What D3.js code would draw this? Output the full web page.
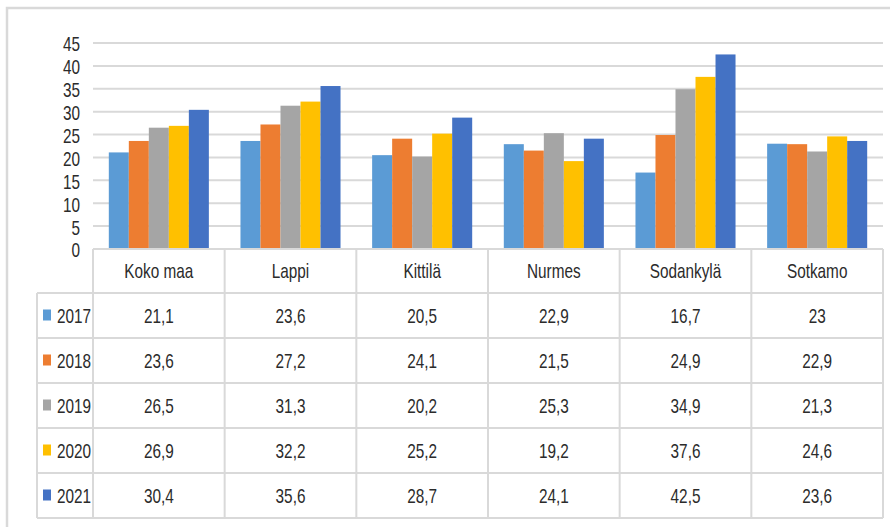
<!DOCTYPE html>
<html>
<head>
<meta charset="utf-8">
<script src="https://cdn.jsdelivr.net/npm/d3@7"></script>
<style>
  html, body { margin: 0; padding: 0; background: #fff; }
  svg { display: block; }
  text { font-family: "Liberation Sans", Arial, sans-serif; fill: #2b2b2b; }
</style>
</head>
<body>
<svg id="chart" width="890" height="527"></svg>
<script>
// Regions and years shown in the chart and its data table
const regions = ["Koko maa", "Lappi", "Kittilä", "Nurmes", "Sodankylä", "Sotkamo"];
const years = ["2017", "2018", "2019", "2020", "2021"];
const yearColors = ["#5B9BD5", "#ED7D31", "#A5A5A5", "#FFC000", "#4472C4"];

// Values per year, one entry per region (same order as regions)
const v2017 = [21.1, 23.6, 20.5, 22.9, 16.7, 23];
const v2018 = [23.6, 27.2, 24.1, 21.5, 24.9, 22.9];
const v2019 = [26.5, 31.3, 20.2, 25.3, 34.9, 21.3];
const v2020 = [26.9, 32.2, 25.2, 19.2, 37.6, 24.6];
const v2021 = [30.4, 35.6, 28.7, 24.1, 42.5, 23.6];
const series = [v2017, v2018, v2019, v2020, v2021];

const yTicks = [0, 5, 10, 15, 20, 25, 30, 35, 40, 45];

const svg = d3.select("#chart");
const gridColor = "#d9d9d9";
const fontSize = 21;
const squeeze = 0.73;   // condensed lettering

// Places a horizontally condensed label at (x, y)
function label(parent, x, y, txt, anchor) {
  parent.append("g")
    .attr("transform", `translate(${x},${y}) scale(${squeeze},1)`)
    .append("text")
    .attr("text-anchor", anchor)
    .attr("dominant-baseline", "central")
    .attr("font-size", fontSize)
    .text(txt);
}

// Outer chart frame
svg.append("rect")
  .attr("x", 7).attr("y", 8)
  .attr("width", 900).attr("height", 540)
  .attr("fill", "none")
  .attr("stroke", gridColor)
  .attr("stroke-width", 2.5);

const plotLeft = 93, plotRight = 883, plotTop = 43, plotBottom = 249;

const x0 = d3.scaleBand().domain(regions).range([plotLeft, plotRight]).paddingInner(0).paddingOuter(0);
const x1 = d3.scaleBand().domain(years).range([0, x0.bandwidth()]).paddingInner(0).paddingOuter(0.79);
const y = d3.scaleLinear().domain([0, 45]).range([plotBottom, plotTop]);
const color = d3.scaleOrdinal().domain(years).range(yearColors);

// Horizontal gridlines
svg.append("g")
  .selectAll("line")
  .data(yTicks.filter(t => t > 0))
  .join("line")
  .attr("x1", plotLeft).attr("x2", plotRight)
  .attr("y1", d => y(d)).attr("y2", d => y(d))
  .attr("stroke", gridColor)
  .attr("stroke-width", 2);

// Y axis labels
const yG = svg.append("g");
yTicks.forEach(t => label(yG, 80, y(t) + 1, String(t), "end"));

// Bars
const rows = regions.map((r, i) => ({ region: r, values: years.map((yr, k) => ({ year: yr, value: series[k][i] })) }));
svg.append("g")
  .selectAll("g")
  .data(rows)
  .join("g")
  .attr("transform", d => `translate(${x0(d.region)},0)`)
  .selectAll("rect")
  .data(d => d.values)
  .join("rect")
  .attr("x", d => x1(d.year))
  .attr("width", x1.bandwidth())
  .attr("y", d => y(d.value))
  .attr("height", d => y(0) - y(d.value))
  .attr("fill", d => color(d.year));

// Data table beneath the plot
const headerTop = plotBottom, headerBottom = 293;
const rowH = 45;
const tableBottom = headerBottom + rowH * years.length;
const legendLeft = 37;
const tbl = svg.append("g");
const lines = tbl.append("g");

// Horizontal table lines
lines.append("line")
  .attr("x1", plotLeft).attr("x2", plotRight)
  .attr("y1", headerTop).attr("y2", headerTop);
d3.range(years.length + 1).forEach(i => {
  const yy = headerBottom + i * rowH;
  lines.append("line")
    .attr("x1", legendLeft).attr("x2", plotRight)
    .attr("y1", yy).attr("y2", yy);
});
// Vertical table lines
lines.append("line")
  .attr("x1", legendLeft).attr("x2", legendLeft)
  .attr("y1", headerBottom).attr("y2", tableBottom);
regions.forEach(r => {
  lines.append("line")
    .attr("x1", x0(r)).attr("x2", x0(r))
    .attr("y1", headerTop).attr("y2", tableBottom);
});
lines.append("line")
  .attr("x1", plotRight).attr("x2", plotRight)
  .attr("y1", headerTop).attr("y2", tableBottom);
lines.selectAll("line").attr("stroke", gridColor).attr("stroke-width", 2);

// Column headers
regions.forEach(r => label(tbl, x0(r) + x0.bandwidth() / 2, (headerTop + headerBottom) / 2, r, "middle"));

const fmt = v => String(v).replace(".", ",");

// Year rows: legend key, label and values
years.forEach((yr, k) => {
  const cy = headerBottom + k * rowH + rowH / 2;
  tbl.append("rect")
    .attr("x", 43).attr("y", cy - 6)
    .attr("width", 8).attr("height", 11)
    .attr("fill", color(yr));
  label(tbl, 57, cy, yr, "start");
  regions.forEach((r, i) => label(tbl, x0(r) + x0.bandwidth() / 2, cy, fmt(series[k][i]), "middle"));
});
</script>
</body>
</html>
